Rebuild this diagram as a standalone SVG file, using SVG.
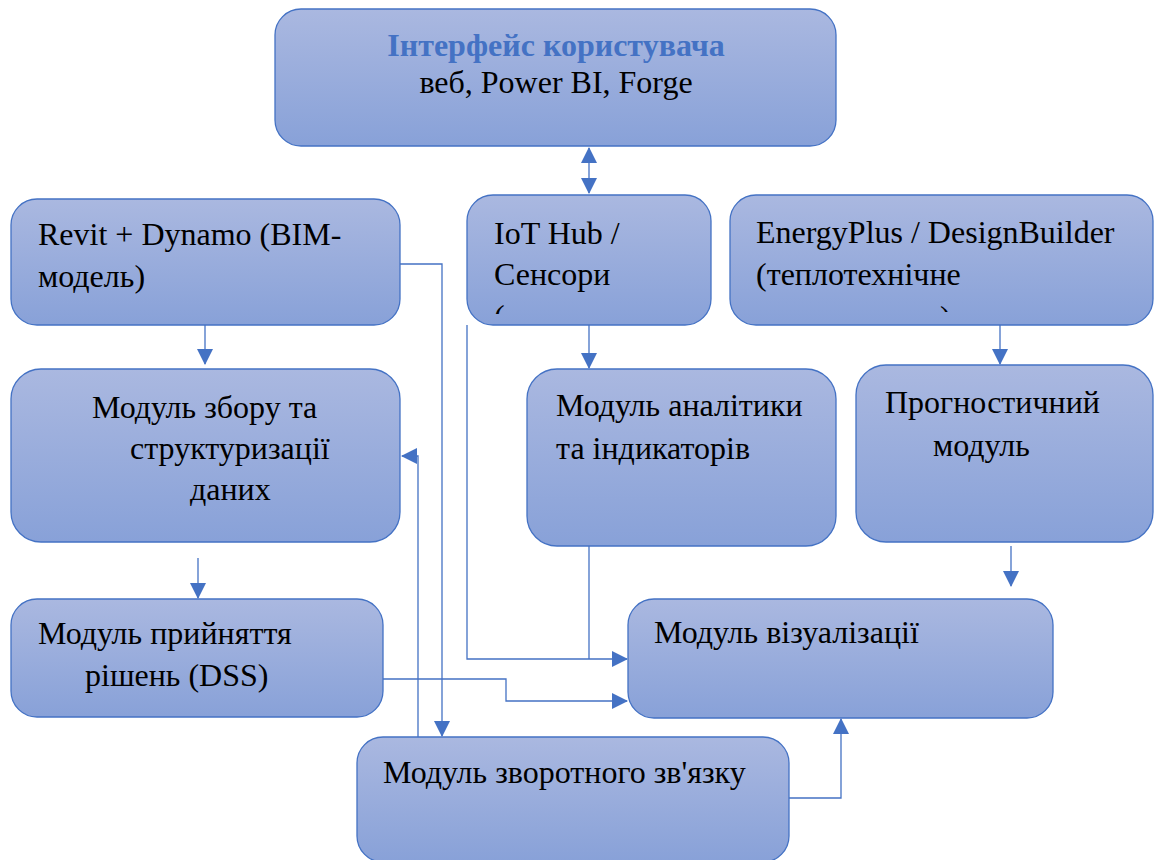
<svg xmlns="http://www.w3.org/2000/svg" width="1157" height="860" viewBox="0 0 1157 860">
<defs>
<linearGradient id="g" x1="0" y1="0" x2="0" y2="1">
<stop offset="0" stop-color="#AAB8E0"/>
<stop offset="1" stop-color="#88A1D8"/>
</linearGradient>
<marker id="ah" markerUnits="userSpaceOnUse" markerWidth="16" markerHeight="16" viewBox="0 0 16 16" refX="15" refY="8" orient="auto-start-reverse">
<path d="M0,0 L16,8 L0,16 Z" fill="#4472C4"/>
</marker>
<clipPath id="c1"><rect x="460" y="290" width="100" height="24"/></clipPath>
<clipPath id="c2"><rect x="900" y="290" width="100" height="22"/></clipPath>
</defs>
<style>
.box{fill:url(#g);stroke:#4472C4;stroke-width:1.3}
.t{font-family:"Liberation Serif","Times New Roman",serif;font-size:32px;fill:#000}
.title{font-family:"Liberation Serif","Times New Roman",serif;font-size:32px;font-weight:bold;fill:#4472C4}
.c{fill:none;stroke:#4472C4;stroke-width:1.3}
</style>
<g id="connectors">
<path class="c" d="M589,148 L589,193" marker-start="url(#ah)" marker-end="url(#ah)"/>
<path class="c" d="M205,325 L205,364" marker-end="url(#ah)"/>
<path class="c" d="M198,558 L198,598" marker-end="url(#ah)"/>
<path class="c" d="M589,325 L589,368" marker-end="url(#ah)"/>
<path class="c" d="M1000,325 L1000,364" marker-end="url(#ah)"/>
<path class="c" d="M1011,546 L1011,586" marker-end="url(#ah)"/>
<path class="c" d="M400,264 L442,264 L442,736" marker-end="url(#ah)"/>
<path class="c" d="M418,737 L418,456 L402,456" marker-end="url(#ah)"/>
<path class="c" d="M467,325 L467,659 L627,659" marker-end="url(#ah)"/>
<path class="c" d="M589,546 L589,659"/>
<path class="c" d="M383,679 L506,679 L506,701 L627,701" marker-end="url(#ah)"/>
<path class="c" d="M789,798 L841,798 L841,719" marker-end="url(#ah)"/>
</g>
<g id="ui">
<rect class="box" x="275" y="9" width="561" height="137" rx="26"/>
<text class="title" x="556" y="56" text-anchor="middle">Інтерфейс користувача</text>
<text class="t" x="556" y="93" text-anchor="middle">веб, Power BI, Forge</text>
</g>
<g id="revit">
<rect class="box" x="11" y="199" width="389" height="126" rx="26"/>
<text class="t" x="38" y="245">Revit + Dynamo (BIM-</text>
<text class="t" x="38" y="287">модель)</text>
</g>
<g id="iot">
<rect class="box" x="467" y="195" width="244" height="130" rx="26"/>
<text class="t" x="494" y="244">IoT Hub /</text>
<text class="t" x="494" y="285">Сенсори</text>
<text class="t" x="494" y="327" clip-path="url(#c1)">(</text>
</g>
<g id="energy">
<rect class="box" x="730" y="195" width="423" height="130" rx="26"/>
<text class="t" x="756" y="243">EnergyPlus / DesignBuilder</text>
<text class="t" x="756" y="285">(теплотехнічне</text>
<text class="t" x="940" y="328" clip-path="url(#c2)">)</text>
</g>
<g id="collect">
<rect class="box" x="11" y="369" width="389" height="173" rx="30"/>
<text class="t" x="92" y="418">Модуль збору та</text>
<text class="t" x="130" y="459">структуризації</text>
<text class="t" x="190" y="500">даних</text>
</g>
<g id="analytics">
<rect class="box" x="527" y="369" width="309" height="177" rx="30"/>
<text class="t" x="556" y="416">Модуль аналітики</text>
<text class="t" x="556" y="459">та індикаторів</text>
</g>
<g id="forecast">
<rect class="box" x="856" y="365" width="297" height="177" rx="30"/>
<text class="t" x="885" y="413">Прогностичний</text>
<text class="t" x="933" y="456">модуль</text>
</g>
<g id="dss">
<rect class="box" x="11" y="599" width="372" height="118" rx="26"/>
<text class="t" x="38" y="644">Модуль прийняття</text>
<text class="t" x="85" y="686">рішень (DSS)</text>
</g>
<g id="vis">
<rect class="box" x="628" y="599" width="425" height="119" rx="26"/>
<text class="t" x="654" y="643">Модуль візуалізації</text>
</g>
<g id="feedback">
<rect class="box" x="357" y="737" width="432" height="125" rx="26"/>
<text class="t" x="383" y="783">Модуль зворотного зв'язку</text>
</g>
</svg>
